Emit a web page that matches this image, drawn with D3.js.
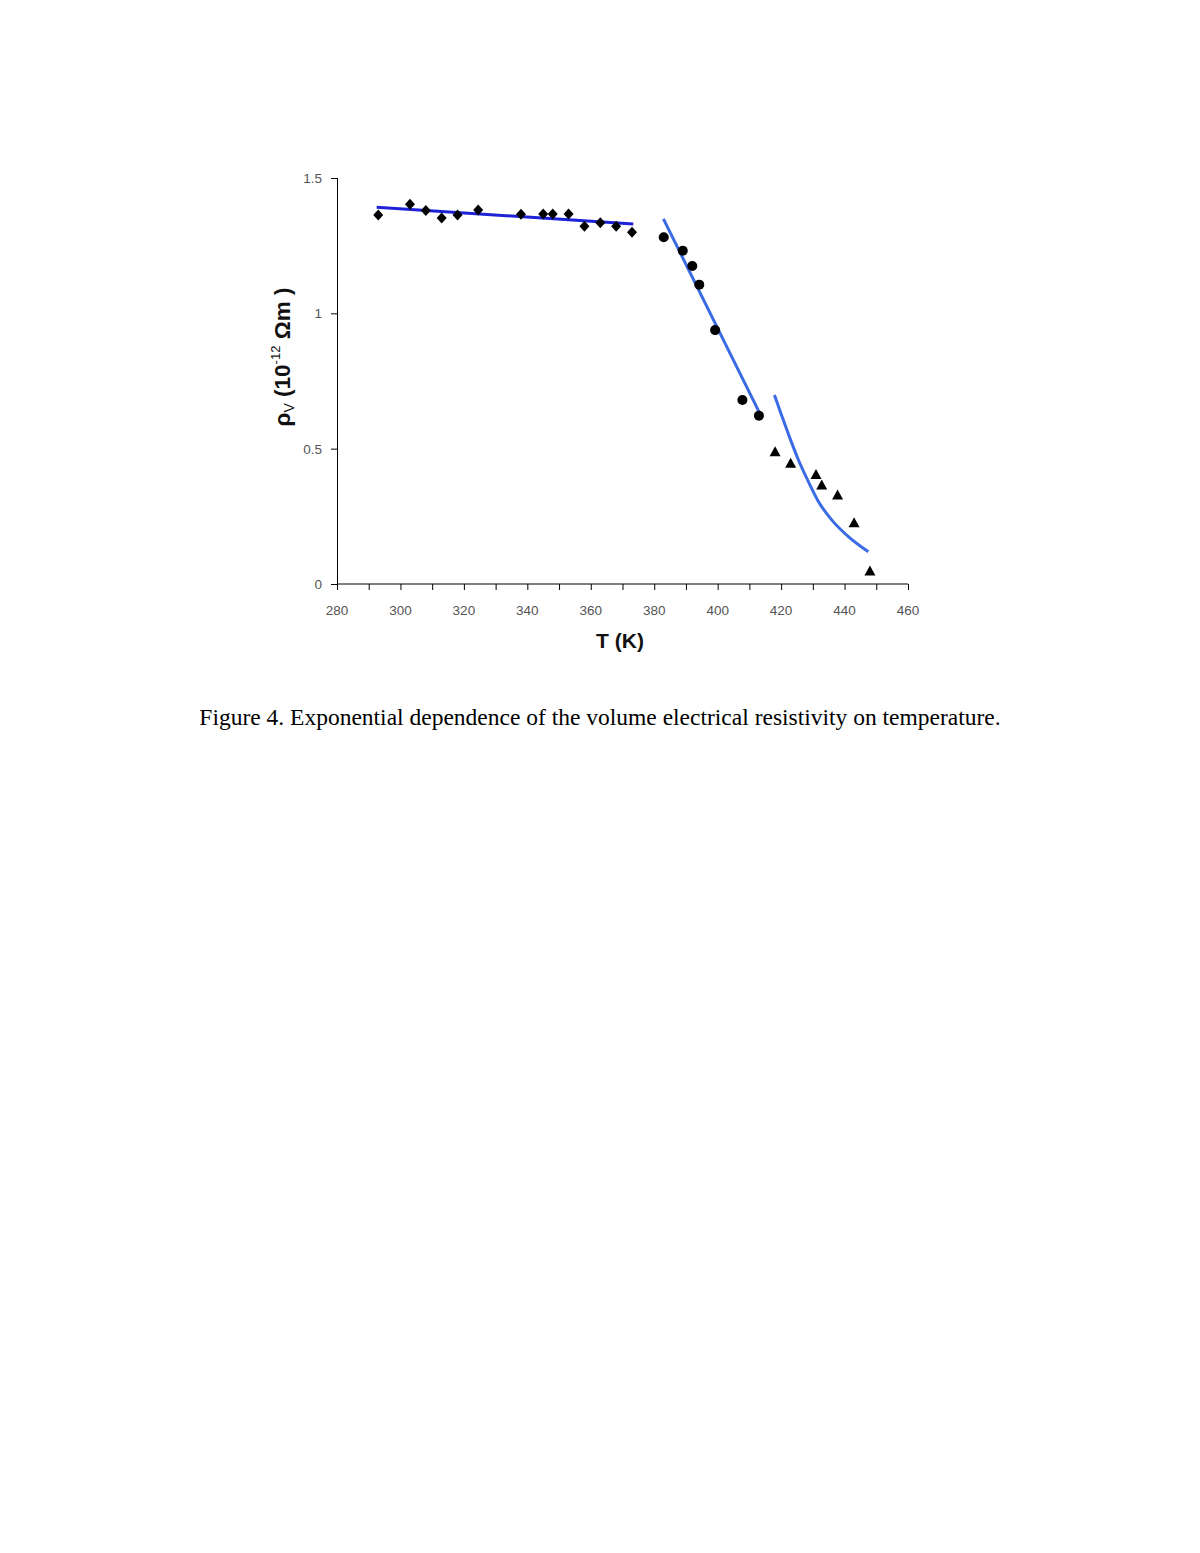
<!DOCTYPE html>
<html>
<head>
<meta charset="utf-8">
<script src="https://cdn.jsdelivr.net/npm/d3@7"></script>
<style>
  html, body { margin: 0; padding: 0; background: #fff; }
  svg { display: block; }
</style>
</head>
<body>
<svg id="chart" width="1200" height="1553"></svg>
<script>
// ---- Data ----
const diamondT = [293, 303, 308, 313, 318, 324.5, 338, 345, 348, 353, 358, 363, 368, 373];
const diamondV = [1.363, 1.403, 1.380, 1.352, 1.363, 1.382, 1.366, 1.367, 1.367, 1.367, 1.322, 1.335, 1.322, 1.300];

const circleT = [383, 389, 392, 394.2, 399.2, 407.8, 413];
const circleV = [1.281, 1.231, 1.175, 1.106, 0.938, 0.680, 0.622];

const triangleT = [418.1, 423, 431, 432.8, 437.8, 443, 448];
const triangleV = [0.489, 0.446, 0.405, 0.366, 0.329, 0.226, 0.048];

const fit1T = [292.5, 373.4];
const fit1V = [1.392, 1.330];

const fit2T = [382.9, 413];
const fit2V = [1.349, 0.637];

const fit3T = [417.9, 420.2, 422.8, 425.4, 428.6, 431.7, 436.0, 441.2, 447.5];
const fit3V = [0.698, 0.622, 0.538, 0.460, 0.378, 0.306, 0.236, 0.175, 0.119];

const xTicks = [280, 300, 320, 340, 360, 380, 400, 420, 440, 460];
const xMinorTicks = d3.range(280, 461, 10);
const yTicks = [0, 0.5, 1, 1.5];
const yTickLabels = ["0", "0.5", "1", "1.5"];

// ---- Layout ----
const svg = d3.select("#chart");
const x = d3.scaleLinear().domain([280, 460]).range([337, 908]);
const y = d3.scaleLinear().domain([0, 1.5]).range([584, 178]);

const tickColor = "#555";
const fontSans = "Arial, 'Liberation Sans', Helvetica, sans-serif";

// X axis
const xAxis = svg.append("g").attr("transform", `translate(0,${y(0)})`);
xAxis.append("line").attr("x1", x(280)).attr("x2", x(460)).attr("y1", 0).attr("y2", 0)
  .attr("stroke", "#000").attr("stroke-width", 1);
xAxis.selectAll("line.tk").data(xMinorTicks).join("line").attr("class", "tk")
  .attr("x1", d => x(d) + 0.5).attr("x2", d => x(d) + 0.5).attr("y1", 0).attr("y2", 6)
  .attr("stroke", "#000").attr("stroke-width", 1);
xAxis.selectAll("text").data(xTicks).join("text")
  .attr("x", d => x(d)).attr("y", 31)
  .attr("text-anchor", "middle")
  .attr("font-family", fontSans).attr("font-size", 13.5).attr("fill", tickColor)
  .text(d => d);

// Y axis
const yAxis = svg.append("g").attr("transform", `translate(${x(280)},0)`);
yAxis.append("line").attr("x1", 0.5).attr("x2", 0.5).attr("y1", y(1.5)).attr("y2", y(0))
  .attr("stroke", "#000").attr("stroke-width", 1);
yAxis.selectAll("line.tk").data(yTicks).join("line").attr("class", "tk")
  .attr("x1", -6).attr("x2", 0.5).attr("y1", d => y(d) + 0.5).attr("y2", d => y(d) + 0.5)
  .attr("stroke", "#000").attr("stroke-width", 1);
yAxis.selectAll("text").data(yTicks).join("text")
  .attr("x", -15).attr("y", d => y(d) + 5)
  .attr("text-anchor", "end")
  .attr("font-family", fontSans).attr("font-size", 13.5).attr("fill", tickColor)
  .text((d, i) => yTickLabels[i]);

// Axis titles
svg.append("text")
  .attr("x", 620).attr("y", 648)
  .attr("text-anchor", "middle")
  .attr("font-family", fontSans).attr("font-size", 21).attr("font-weight", "bold")
  .attr("fill", "#111")
  .text("T (K)");

const yt = svg.append("text")
  .attr("transform", "translate(290,357) rotate(-90)")
  .attr("text-anchor", "middle")
  .attr("font-family", fontSans).attr("font-size", 22.5).attr("font-weight", "bold")
  .attr("fill", "#111");
yt.append("tspan").text("ρ");
yt.append("tspan").attr("font-size", 14).attr("font-weight", "normal").attr("dy", 4).text("V");
yt.append("tspan").attr("dy", -4).text(" (10");
yt.append("tspan").attr("font-size", 13).attr("font-weight", "normal").attr("dy", -10).text("-12");
yt.append("tspan").attr("dy", 10).text(" Ωm )");

// Fit lines
const line = d3.line().x(d => x(d[0])).y(d => y(d[1]));
svg.append("path")
  .attr("d", line(d3.zip(fit1T, fit1V)))
  .attr("fill", "none").attr("stroke", "#1e22d6").attr("stroke-width", 3);
svg.append("path")
  .attr("d", line(d3.zip(fit2T, fit2V)))
  .attr("fill", "none").attr("stroke", "#3b6be4").attr("stroke-width", 3);
svg.append("path")
  .attr("d", d3.line().x(d => x(d[0])).y(d => y(d[1])).curve(d3.curveMonotoneX)(d3.zip(fit3T, fit3V)))
  .attr("fill", "none").attr("stroke", "#3b6be4").attr("stroke-width", 3);

// Markers
svg.append("g").selectAll("path").data(d3.zip(diamondT, diamondV)).join("path")
  .attr("transform", d => `translate(${x(d[0])},${y(d[1])})`)
  .attr("d", "M0,-5.5L5,0L0,5.5L-5,0Z")
  .attr("fill", "#000");

svg.append("g").selectAll("circle").data(d3.zip(circleT, circleV)).join("circle")
  .attr("cx", d => x(d[0])).attr("cy", d => y(d[1])).attr("r", 5)
  .attr("fill", "#000");

svg.append("g").selectAll("path").data(d3.zip(triangleT, triangleV)).join("path")
  .attr("transform", d => `translate(${x(d[0])},${y(d[1])})`)
  .attr("d", "M0,-5.5L5.5,4.5L-5.5,4.5Z")
  .attr("fill", "#000");

// Caption
svg.append("text")
  .attr("x", 600).attr("y", 725)
  .attr("text-anchor", "middle")
  .attr("font-family", "'Liberation Serif', 'Times New Roman', Times, serif")
  .attr("font-size", 23.5).attr("fill", "#000")
  .text("Figure 4. Exponential dependence of the volume electrical resistivity on temperature.");
</script>
</body>
</html>
